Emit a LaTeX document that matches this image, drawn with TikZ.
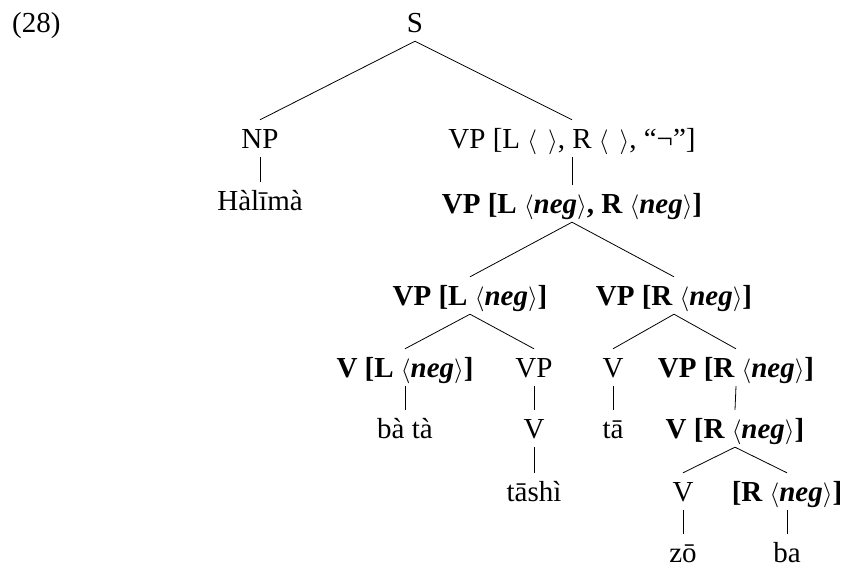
\documentclass[tikz,border=0pt]{standalone}
\usepackage{fontspec}
\setmainfont{Liberation Serif}
\usetikzlibrary{positioning}

\newcommand{\negfeat}{$\langle$\textbf{\textit{neg}}$\rangle$}
\newcommand{\emptyfeat}{$\langle\;\,\rangle$}

\tikzset{
    treeCat/.style={
        anchor=base,
        font=\fontsize{29}{34}\selectfont,
        inner xsep=2pt,
        inner ysep=9pt,
        text height=19pt,
        text depth=0pt
    },
    treeBold/.style={
        treeCat,
        font=\fontsize{29}{34}\selectfont\bfseries
    },
    branch/.style={
        draw=black,
        line width=0.8pt
    }
}

\begin{document}
\begin{tikzpicture}[x=1pt, y=-1pt]
    \useasboundingbox (0,0) rectangle (844,568);

    % Example number
    \node[treeCat, anchor=base west, inner xsep=0pt] (exnum) at (12,32) {(28)};

    % Root and first split
    \node[treeCat] (s) at (415,32) {S};
    \node[treeCat] (np) at (260,148) {NP};
    \node[treeCat] (vpTop) at (572,148) {VP [L \emptyfeat, R \emptyfeat, “¬”]};
    \node[treeCat] (halima) at (260,210) {Hàlīmà};
    \node[treeBold] (vpLR) at (572,213) {VP [L \negfeat, R \negfeat]};

    % Left and right VPs
    \node[treeBold] (vpL) at (470,305) {VP [L \negfeat]};
    \node[treeBold] (vpR) at (674,305) {VP [R \negfeat]};

    \node[treeBold] (vL) at (405,377) {V [L \negfeat]};
    \node[treeCat] (vpPlain) at (534,377) {VP};
    \node[treeCat] (vTa) at (613,377) {V};
    \node[treeBold] (vpR2) at (736,377) {VP [R \negfeat]};

    \node[treeCat] (bata) at (405,438) {bà tà};
    \node[treeCat] (vTashi) at (534,438) {V};
    \node[treeCat] (ta) at (613,438) {tā};
    \node[treeBold] (vR) at (735,438) {V [R \negfeat]};

    \node[treeCat] (tashi) at (534,501) {tāshì};
    \node[treeCat] (vZo) at (683,501) {V};
    \node[treeBold] (rNeg) at (787,501) {[R \negfeat]};

    \node[treeCat] (zo) at (683,562) {zō};
    \node[treeCat] (ba) at (787,562) {ba};

    % Branches
    \draw[branch] (s.south) -- (np.north);
    \draw[branch] (s.south) -- (vpTop.north);
    \draw[branch] (np.south) -- (halima.north);
    \draw[branch] (vpTop.south) -- (vpLR.north);
    \draw[branch] (vpLR.south) -- (vpL.north);
    \draw[branch] (vpLR.south) -- (vpR.north);
    \draw[branch] (vpL.south) -- (vL.north);
    \draw[branch] (vpL.south) -- (vpPlain.north);
    \draw[branch] (vpR.south) -- (vTa.north);
    \draw[branch] (vpR.south) -- (vpR2.north);
    \draw[branch] (vL.south) -- (bata.north);
    \draw[branch] (vpPlain.south) -- (vTashi.north);
    \draw[branch] (vTa.south) -- (ta.north);
    \draw[branch] (vpR2.south) -- (vR.north);
    \draw[branch] (vTashi.south) -- (tashi.north);
    \draw[branch] (vR.south) -- (vZo.north);
    \draw[branch] (vR.south) -- (rNeg.north);
    \draw[branch] (vZo.south) -- (zo.north);
    \draw[branch] (rNeg.south) -- (ba.north);
\end{tikzpicture}
\end{document}
